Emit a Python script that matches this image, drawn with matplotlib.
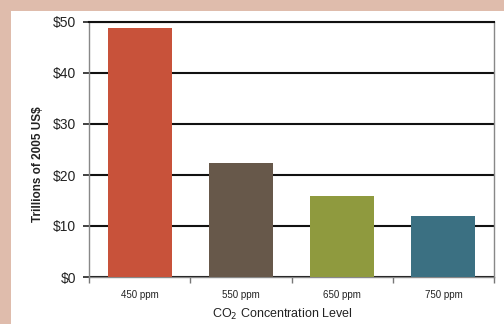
import matplotlib
matplotlib.use("Agg")
import matplotlib.pyplot as plt
from matplotlib.patches import Rectangle

categories = ["450 ppm", "550 ppm", "650 ppm", "750 ppm"]
values = [48.8, 22.3, 15.8, 12.0]
colors = ["#c8523a", "#67584a", "#8f9a3e", "#3b7082"]
yticks = [0, 10, 20, 30, 40, 50]
ytick_labels = ["$0", "$10", "$20", "$30", "$40", "$50"]

plt.rcParams["font.family"] = ["Liberation Sans", "DejaVu Sans"]

W, H = 504, 324
fig = plt.figure(figsize=(W / 100, H / 100), dpi=100)
fig.patch.set_facecolor("white")

# tan frame along the top and left edges
frame = "#dfbcac"
fig.patches.append(Rectangle((0, 1 - 11 / H), 1, 11 / H, transform=fig.transFigure,
                             facecolor=frame, edgecolor="none", zorder=0))
fig.patches.append(Rectangle((0, 0), 11 / W, 1, transform=fig.transFigure,
                             facecolor=frame, edgecolor="none", zorder=0))

ax = fig.add_axes([89 / W, 47 / H, 405 / W, 255 / H])
x = range(len(categories))
ax.bar(x, values, width=0.63, color=colors, zorder=3)

ax.set_xlim(-0.5, len(categories) - 0.5)
ax.set_ylim(0, 50)
ax.set_yticks(yticks)
ax.set_yticklabels(ytick_labels, fontsize=10, color="#222222")
ax.yaxis.grid(True, color="#111111", linewidth=1.5, zorder=1)
ax.set_axisbelow(True)

ax.set_xticks(list(x))
ax.set_xticklabels(categories, fontsize=7, color="#222222")
ax.set_xticks([i + 0.5 for i in range(-1, len(categories))], minor=True)
ax.tick_params(axis="x", which="major", length=0, pad=9)
ax.tick_params(axis="x", which="minor", length=4, color="#777777", width=1)
ax.tick_params(axis="y", length=4.3, width=1.3, color="#333333", pad=5)

for side in ("left", "right", "bottom"):
    ax.spines[side].set_color("#888888")
    ax.spines[side].set_linewidth(1.0)
ax.spines["top"].set_color("#111111")
ax.spines["top"].set_linewidth(1.5)

ax.set_xlabel("CO$_2$ Concentration Level", fontsize=9, color="#222222")
ax.xaxis.set_label_coords(0.478, -0.145)
ax.xaxis.label.set_va("center")
ax.set_ylabel("Trillions of 2005 US$", fontsize=8.5, fontweight="bold",
              color="#222222")
ax.yaxis.set_label_coords(-0.127, 0.443)
ax.yaxis.label.set_va("center")

fig.savefig("out.png", dpi=100)
